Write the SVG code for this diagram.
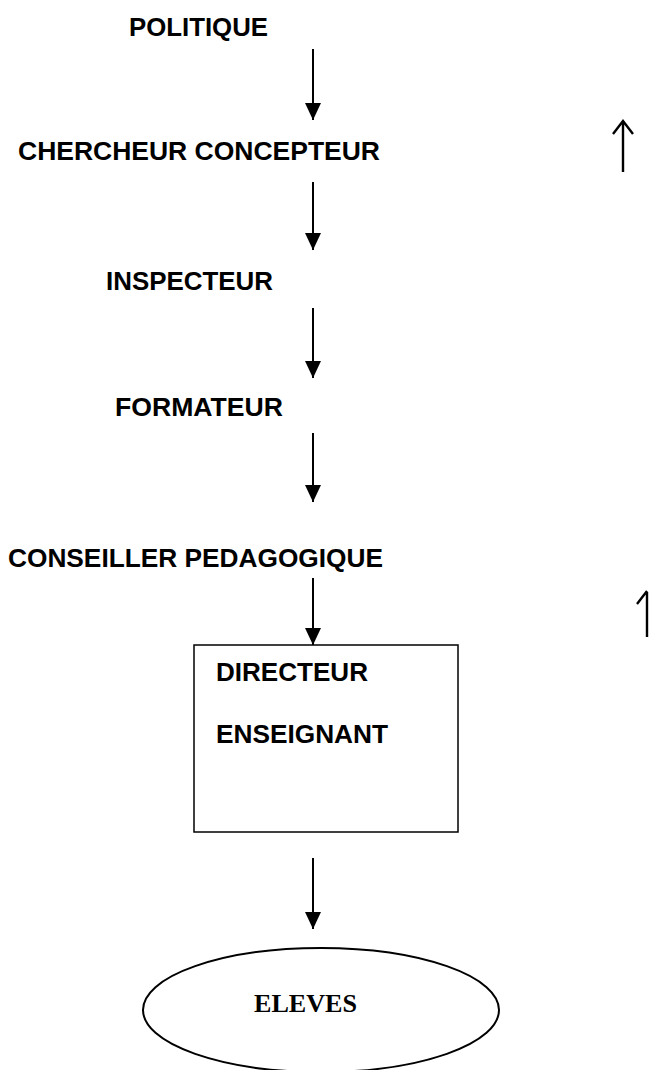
<svg xmlns="http://www.w3.org/2000/svg" width="650" height="1070" viewBox="0 0 650 1070">
<style>
.t{font-family:"Liberation Sans",Arial,sans-serif;font-weight:bold;font-size:25px;fill:#000}
.s{font-family:"Liberation Serif","Times New Roman",serif;font-weight:bold;font-size:26px;fill:#000}
.c{stroke:#000;stroke-width:2;fill:none}
.u{stroke:#000;stroke-width:2.4;fill:none;stroke-linecap:butt;stroke-linejoin:miter}
.box{stroke:#000;stroke-width:1.5;fill:#fff}
</style>
<defs>
<marker id="ah" markerUnits="userSpaceOnUse" markerWidth="18" markerHeight="16" refX="17" refY="8" orient="auto" viewBox="0 0 18 16">
<path d="M0,0 L17,8 L0,16 Z" fill="#000"/>
</marker>
</defs>
<rect width="650" height="1070" fill="#fff"/>
<g id="politique"><text class="t" x="129" y="36" textLength="139" lengthAdjust="spacingAndGlyphs">POLITIQUE</text></g>
<g id="chercheur"><text class="t" x="18" y="160" textLength="362" lengthAdjust="spacingAndGlyphs">CHERCHEUR CONCEPTEUR</text></g>
<g id="inspecteur"><text class="t" x="106" y="290" textLength="167" lengthAdjust="spacingAndGlyphs">INSPECTEUR</text></g>
<g id="formateur"><text class="t" x="115" y="416" textLength="168" lengthAdjust="spacingAndGlyphs">FORMATEUR</text></g>
<g id="conseiller"><text class="t" x="8" y="567" textLength="375" lengthAdjust="spacingAndGlyphs">CONSEILLER PEDAGOGIQUE</text></g>
<g id="directeur-enseignant">
<rect class="box" x="194" y="645" width="264" height="187"/>
<text class="t" x="216" y="681" textLength="152" lengthAdjust="spacingAndGlyphs">DIRECTEUR</text>
<text class="t" x="216" y="743" textLength="172" lengthAdjust="spacingAndGlyphs">ENSEIGNANT</text>
</g>
<g id="eleves">
<ellipse cx="321" cy="1010" rx="178" ry="62" fill="#fff" stroke="#000" stroke-width="2"/>
<text class="s" x="254" y="1012" textLength="103" lengthAdjust="spacingAndGlyphs">ELEVES</text>
</g>
<g id="connectors">
<line class="c" x1="313" y1="49" x2="313" y2="120" marker-end="url(#ah)"/>
<line class="c" x1="313" y1="182" x2="313" y2="250" marker-end="url(#ah)"/>
<line class="c" x1="313" y1="308" x2="313" y2="378" marker-end="url(#ah)"/>
<line class="c" x1="313" y1="433" x2="313" y2="502" marker-end="url(#ah)"/>
<line class="c" x1="313" y1="578" x2="313" y2="645" marker-end="url(#ah)"/>
<line class="c" x1="313" y1="858" x2="313" y2="929" marker-end="url(#ah)"/>
</g>
<g id="up-arrows">
<path class="u" d="M623,172 L623,122 M613,134 L623,121 L633,134"/>
<path class="u" d="M647,637 L647,592 M637,604 L647,591"/>
</g>
</svg>
